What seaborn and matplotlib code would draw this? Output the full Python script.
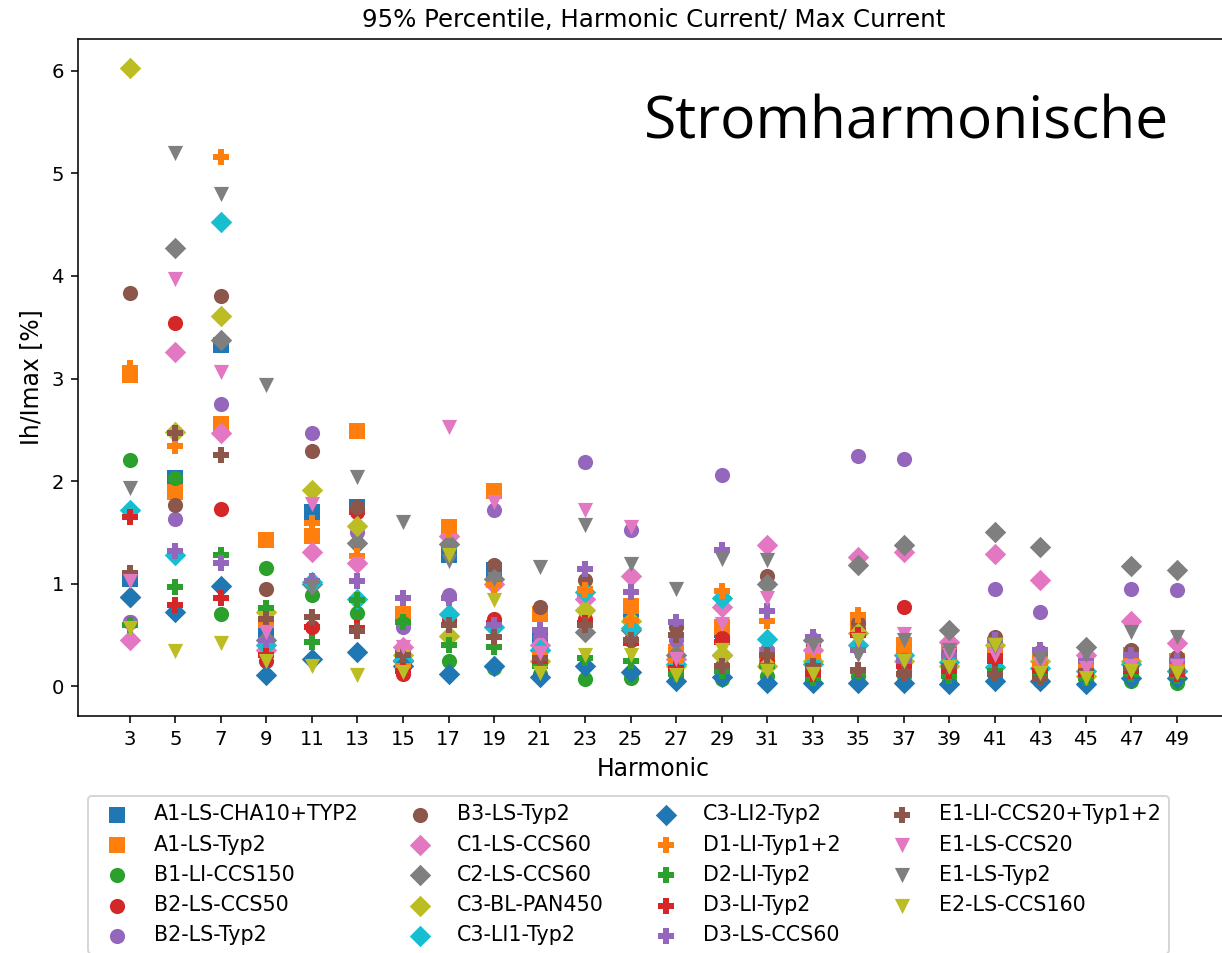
import matplotlib
matplotlib.use("Agg")
import matplotlib.pyplot as plt
import seaborn as sns

harmonics = [3, 5, 7, 9, 11, 13, 15, 17, 19, 21, 23, 25, 27, 29, 31, 33, 35, 37, 39, 41, 43, 45, 47, 49]

series_names = [
    "A1-LS-CHA10+TYP2", "A1-LS-Typ2", "B1-LI-CCS150", "B2-LS-CCS50", "B2-LS-Typ2",
    "B3-LS-Typ2", "C1-LS-CCS60", "C2-LS-CCS60", "C3-BL-PAN450", "C3-LI1-Typ2",
    "C3-LI2-Typ2", "D1-LI-Typ1+2", "D2-LI-Typ2", "D3-LI-Typ2", "D3-LS-CCS60",
    "E1-LI-CCS20+Typ1+2", "E1-LS-CCS20", "E1-LS-Typ2", "E2-LS-CCS160",
]

a1_cha10 = [1.05, 2.03, 3.33, 0.50, 1.70, 1.75, 0.30, 1.28, 1.13, 0.50, 0.90, 0.75, 0.30, 0.55, 0.30, 0.20, 0.55, 0.35, 0.22, 0.35, 0.20, 0.15, 0.25, 0.20]
a1_typ2 = [3.03, 1.89, 2.56, 1.43, 1.46, 2.49, 0.70, 1.55, 1.90, 0.70, 0.90, 0.78, 0.33, 0.58, 0.30, 0.25, 0.60, 0.40, 0.33, 0.40, 0.25, 0.22, 0.30, 0.25]
b1_ccs150 = [2.21, 2.03, 0.70, 1.15, 0.89, 0.71, 0.62, 0.25, 0.18, 0.12, 0.07, 0.08, 0.10, 0.07, 0.10, 0.04, 0.10, 0.10, 0.05, 0.08, 0.05, 0.04, 0.05, 0.03]
b2_ccs50 = [0.63, 3.54, 1.73, 0.25, 0.58, 1.70, 0.12, 0.65, 0.66, 0.30, 0.66, 0.45, 0.20, 0.47, 0.25, 0.15, 0.55, 0.77, 0.28, 0.30, 0.20, 0.15, 0.20, 0.18]
b2_typ2 = [0.63, 1.63, 2.75, 0.38, 2.47, 1.50, 0.58, 0.89, 1.72, 0.48, 2.19, 1.52, 0.45, 2.06, 0.35, 0.40, 2.24, 2.22, 0.30, 0.95, 0.72, 0.23, 0.95, 0.94]
b3_typ2 = [3.83, 1.77, 3.80, 0.95, 2.29, 1.75, 0.35, 0.69, 1.18, 0.77, 1.04, 0.45, 0.58, 0.20, 1.07, 0.40, 0.62, 0.15, 0.35, 0.48, 0.33, 0.30, 0.35, 0.29]
c1_ccs60 = [0.45, 3.26, 2.47, 0.35, 1.31, 1.20, 0.38, 1.46, 1.00, 0.40, 0.85, 1.07, 0.27, 0.77, 1.38, 0.35, 1.26, 1.31, 0.43, 1.29, 1.04, 0.30, 0.64, 0.42]
c2_ccs60 = [0.87, 4.27, 3.38, 0.45, 1.00, 1.40, 0.25, 1.39, 1.05, 0.35, 0.53, 0.55, 0.30, 0.30, 1.00, 0.45, 1.18, 1.38, 0.55, 1.50, 1.36, 0.38, 1.17, 1.13]
c3_pan450 = [6.03, 2.48, 3.61, 0.72, 1.91, 1.56, 0.30, 0.49, 0.20, 0.25, 0.74, 0.64, 0.20, 0.30, 0.20, 0.25, 0.52, 0.25, 0.20, 0.40, 0.25, 0.10, 0.25, 0.15]
c3_li1 = [1.72, 1.28, 4.53, 0.40, 1.02, 0.85, 0.26, 0.70, 0.58, 0.35, 0.92, 0.57, 0.22, 0.86, 0.46, 0.22, 0.40, 0.30, 0.24, 0.19, 0.18, 0.15, 0.22, 0.15]
c3_li2 = [0.87, 0.72, 0.98, 0.11, 0.27, 0.33, 0.20, 0.12, 0.20, 0.09, 0.20, 0.14, 0.05, 0.09, 0.03, 0.03, 0.03, 0.03, 0.02, 0.05, 0.05, 0.02, 0.08, 0.08]
d1_typ12 = [3.10, 2.34, 5.16, 0.60, 1.59, 1.27, 0.20, 1.52, 0.99, 0.30, 0.94, 0.65, 0.25, 0.93, 0.64, 0.29, 0.69, 0.35, 0.30, 0.35, 0.22, 0.20, 0.28, 0.22]
d2_typ2 = [0.60, 0.97, 1.28, 0.76, 0.43, 0.84, 0.63, 0.40, 0.38, 0.20, 0.28, 0.25, 0.12, 0.15, 0.20, 0.08, 0.15, 0.20, 0.10, 0.15, 0.10, 0.08, 0.12, 0.10]
d3_li_typ2 = [1.65, 0.79, 0.86, 0.30, 0.58, 0.57, 0.15, 0.60, 0.62, 0.25, 0.62, 0.42, 0.18, 0.43, 0.30, 0.12, 0.50, 0.20, 0.15, 0.25, 0.15, 0.12, 0.15, 0.12]
d3_ls_ccs60 = [1.10, 1.32, 1.20, 0.45, 1.03, 1.03, 0.86, 0.86, 0.60, 0.55, 1.14, 0.92, 0.63, 1.33, 0.73, 0.48, 0.35, 0.25, 0.30, 0.45, 0.35, 0.25, 0.30, 0.25]
e1_li_ccs20 = [1.10, 2.47, 2.25, 0.66, 0.68, 0.54, 0.30, 0.60, 0.48, 0.28, 0.60, 0.45, 0.50, 0.20, 0.30, 0.20, 0.16, 0.12, 0.20, 0.12, 0.08, 0.15, 0.18, 0.15]
e1_ls_ccs20 = [1.03, 3.97, 3.06, 0.53, 1.78, 1.19, 0.38, 2.53, 1.80, 0.32, 1.72, 1.55, 0.27, 0.61, 0.86, 0.35, 0.45, 0.51, 0.30, 0.30, 0.22, 0.18, 0.20, 0.20]
e1_ls_typ2 = [1.93, 5.20, 4.80, 2.94, 0.97, 2.04, 1.60, 1.22, 1.05, 1.16, 1.57, 1.19, 0.95, 1.24, 1.23, 0.40, 0.30, 0.45, 0.35, 0.38, 0.27, 0.30, 0.53, 0.48]
e2_ccs160 = [0.57, 0.34, 0.42, 0.25, 0.20, 0.11, 0.14, 1.28, 0.84, 0.13, 0.30, 0.30, 0.11, 0.35, 0.15, 0.12, 0.45, 0.25, 0.19, 0.40, 0.13, 0.08, 0.15, 0.13]

series_values = [a1_cha10, a1_typ2, b1_ccs150, b2_ccs50, b2_typ2, b3_typ2, c1_ccs60, c2_ccs60,
                 c3_pan450, c3_li1, c3_li2, d1_typ12, d2_typ2, d3_li_typ2, d3_ls_ccs60,
                 e1_li_ccs20, e1_ls_ccs20, e1_ls_typ2, e2_ccs160]

markers = ["s", "s", "o", "o", "o", "o", "D", "D", "D", "D", "D", "P", "P", "P", "P", "P", "v", "v", "v"]
palette = sns.color_palette("tab10", 10)
colors = [palette[i % 10] for i in range(len(series_names))]

DPI = 141
fig = plt.figure(figsize=(1222 / DPI, 953 / DPI), dpi=DPI)
ax = fig.add_axes([77.5 / 1222, 1 - 716 / 953, 1151.7 / 1222, 677 / 953])

for name, vals, m, c in zip(series_names, series_values, markers, colors):
    sns.scatterplot(x=harmonics, y=vals, marker=m, color=c, s=60, linewidth=0,
                    label=name, ax=ax, legend=False)

ax.set_xlim(0.7, 51.3)
ax.set_ylim(-0.29, 6.31)
ax.set_xticks(harmonics)
ax.set_xticklabels([str(h) for h in harmonics])
ax.set_yticks([0, 1, 2, 3, 4, 5, 6])
ax.set_xlabel("Harmonic", fontsize=12)
ax.set_ylabel("Ih/Imax [%]", fontsize=12)
ax.set_title("95% Percentile, Harmonic Current/ Max Current", fontsize=12.5)

handles, labels = ax.get_legend_handles_labels()
fig.legend(handles, labels, loc="upper left", bbox_to_anchor=(88 / 1222, 1 - 796 / 953),
           bbox_transform=fig.transFigure, ncol=4, scatterpoints=1, fontsize=10.5,
           borderaxespad=0)

fig.text(644 / 1222, 1 - 138.6 / 953, "Stromharmonische", fontsize=30,
         family=["Open Sans", "DejaVu Sans"], ha="left", va="baseline", color="black")

fig.savefig("out.png", dpi=DPI)
